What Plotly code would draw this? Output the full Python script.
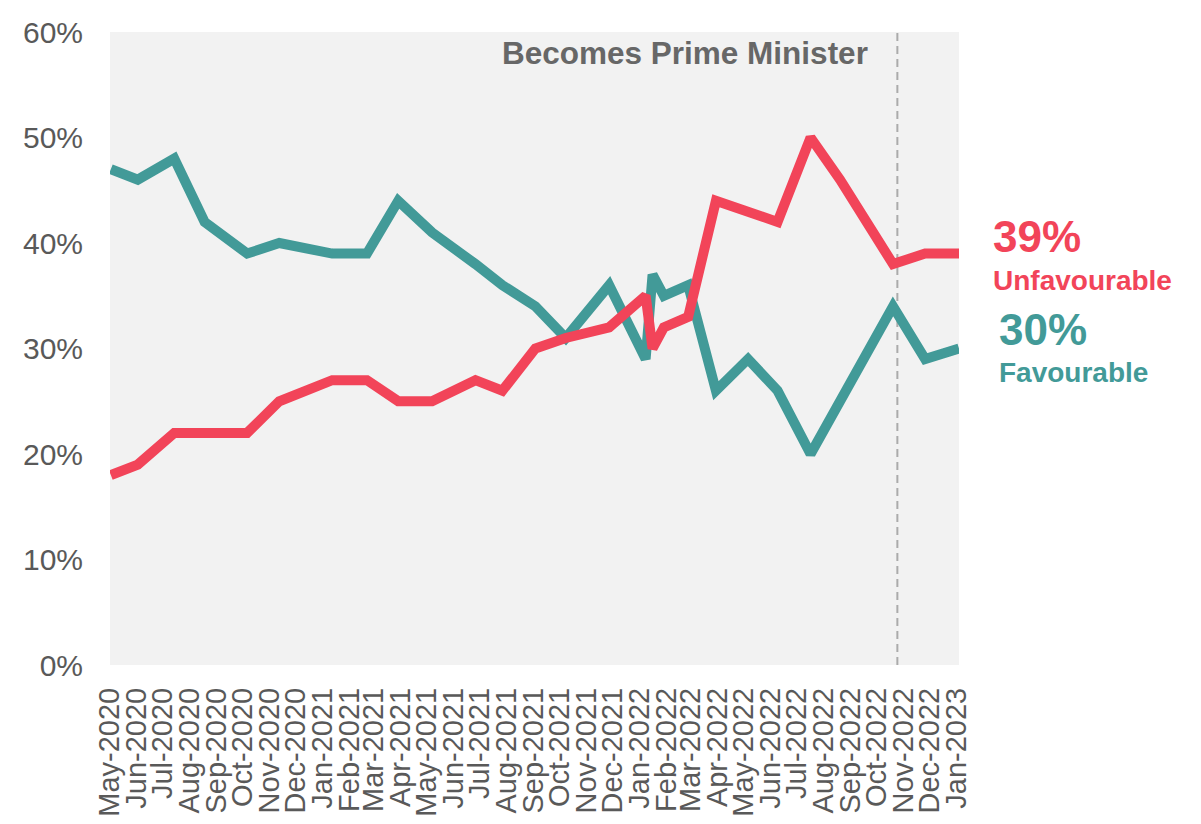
import plotly.graph_objects as go

# Survey dates
dates = [
    "2020-05-02", "2020-06-02", "2020-07-14", "2020-08-18", "2020-10-06",
    "2020-11-12", "2021-01-12", "2021-02-21", "2021-03-29", "2021-05-07",
    "2021-06-26", "2021-07-27", "2021-09-03", "2021-10-08", "2021-11-27",
    "2022-01-08", "2022-01-16", "2022-01-29", "2022-02-26", "2022-03-30",
    "2022-05-06", "2022-06-09", "2022-07-17", "2022-08-20", "2022-10-20",
    "2022-11-26", "2023-01-04",
]
favourable = [47, 46, 48, 42, 39, 40, 39, 39, 44, 41, 38, 36, 34, 31, 36,
              29, 37, 35, 36, 26, 29, 26, 20, 25, 34, 29, 30]
unfavourable = [18, 19, 22, 22, 22, 25, 27, 27, 25, 25, 27, 26, 30, 31, 32,
                35, 30, 32, 33, 44, 43, 42, 50, 46, 38, 39, 39]

pm_date = "2022-10-25"
pm_label = "Becomes Prime Minister"
last_unfav = unfavourable[-1]
last_fav = favourable[-1]

RED = "#F24459"
TEAL = "#429A98"
FONT = "Arial, Liberation Sans, sans-serif"

fig = go.Figure()
fig.add_trace(go.Scatter(x=dates, y=favourable, mode="lines", name="Favourable",
                         line=dict(color=TEAL, width=10), showlegend=False))
fig.add_trace(go.Scatter(x=dates, y=unfavourable, mode="lines", name="Unfavourable",
                         line=dict(color=RED, width=10), showlegend=False))

fig.add_shape(type="line", xref="x", yref="paper", x0=pm_date, x1=pm_date, y0=0, y1=1,
              line=dict(color="#ABABAB", width=2, dash="8px,5px"), layer="below")

fig.add_annotation(xref="paper", yref="paper", x=0.8952, y=0.9676, xanchor="right",
                   yanchor="middle", showarrow=False, text=f"<b>{pm_label}</b>",
                   font=dict(family=FONT, size=31.5, color="#676767"))

fig.add_annotation(xref="paper", yref="paper", x=1.0377, y=0.6777, xanchor="left",
                   yanchor="middle", showarrow=False, text=f"<b>{last_unfav}%</b>",
                   font=dict(family=FONT, size=44, color=RED))
fig.add_annotation(xref="paper", yref="paper", x=1.0377, y=0.6082, xanchor="left",
                   yanchor="middle", showarrow=False, text="<b>Unfavourable</b>",
                   font=dict(family=FONT, size=28, color=RED))
fig.add_annotation(xref="paper", yref="paper", x=1.0448, y=0.5308, xanchor="left",
                   yanchor="middle", showarrow=False, text=f"<b>{last_fav}%</b>",
                   font=dict(family=FONT, size=44, color=TEAL))
fig.add_annotation(xref="paper", yref="paper", x=1.0448, y=0.4613, xanchor="left",
                   yanchor="middle", showarrow=False, text="<b>Favourable</b>",
                   font=dict(family=FONT, size=28, color=TEAL))

fig.update_layout(
    width=1201, height=824,
    margin=dict(l=102, r=250, t=24, b=167),
    paper_bgcolor="white", plot_bgcolor="#F2F2F2",
    font=dict(family=FONT, color="#595959"),
)
fig.update_xaxes(
    type="date", range=["2020-05-01", "2023-01-04"],
    dtick="M1", tick0="2020-05-01", tickformat="%b-%Y", tickangle=-90,
    showgrid=False, zeroline=False, showline=False, ticks="",
    tickfont=dict(family=FONT, size=29, color="#595959"),
    ticklabelstandoff=16, automargin=False,
)
fig.update_yaxes(
    range=[0, 60], dtick=10, ticksuffix="%",
    showgrid=False, zeroline=False, showline=False, ticks="",
    tickfont=dict(family=FONT, size=30, color="#595959"),
    ticklabelstandoff=26, automargin=False,
)

fig.write_html("out.html")
